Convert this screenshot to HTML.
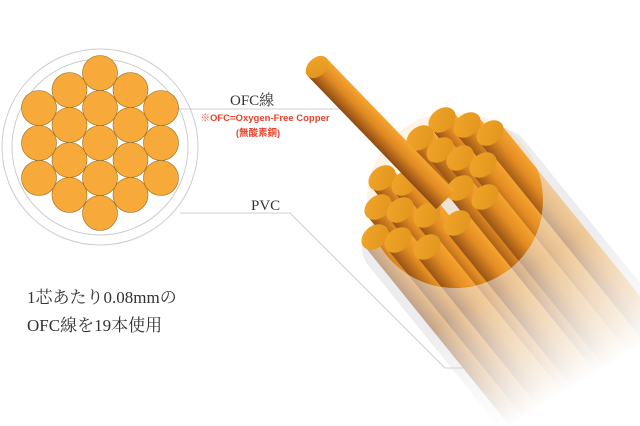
<!DOCTYPE html>
<html><head><meta charset="utf-8"><style>
html,body{margin:0;padding:0;background:#fff;width:640px;height:426px;overflow:hidden;}
svg{display:block}
text{font-family:"Liberation Serif","Noto Serif CJK SC",serif;}
</style></head><body>
<svg width="640" height="426" viewBox="0 0 640 426" xmlns="http://www.w3.org/2000/svg">
<defs>
<linearGradient id="rod" x1="0" y1="0" x2="0" y2="1">
<stop offset="0" stop-color="#f6a531"/><stop offset="0.45" stop-color="#e08a22"/><stop offset="1" stop-color="#8c4a14"/>
</linearGradient>
<linearGradient id="cap" x1="0" y1="0" x2="1" y2="1">
<stop offset="0" stop-color="#f2a52a"/><stop offset="1" stop-color="#e0941c"/>
</linearGradient>
<linearGradient id="fade" gradientUnits="userSpaceOnUse" x1="430" y1="200" x2="560" y2="410">
<stop offset="0" stop-color="#fff"/><stop offset="0.45" stop-color="#fff"/><stop offset="0.95" stop-color="#000"/>
</linearGradient>
<mask id="m"><rect width="640" height="426" fill="url(#fade)"/></mask>
<clipPath id="cc"><circle cx="455" cy="200" r="88"/></clipPath>
<g id="rods">
<g transform="translate(442,120) rotate(51)"><rect x="0" y="-14" width="260" height="28" fill="url(#rod)"/></g>
<g transform="translate(467,125) rotate(51)"><rect x="0" y="-14" width="260" height="28" fill="url(#rod)"/></g>
<g transform="translate(490,133) rotate(51)"><rect x="0" y="-14" width="260" height="28" fill="url(#rod)"/></g>
<g transform="translate(420,138) rotate(51)"><rect x="0" y="-14" width="260" height="28" fill="url(#rod)"/></g>
<g transform="translate(440,150) rotate(51)"><rect x="0" y="-14" width="260" height="28" fill="url(#rod)"/></g>
<g transform="translate(460,158) rotate(51)"><rect x="0" y="-14" width="260" height="28" fill="url(#rod)"/></g>
<g transform="translate(483,165) rotate(51)"><rect x="0" y="-14" width="260" height="28" fill="url(#rod)"/></g>
<g transform="translate(382,178) rotate(51)"><rect x="0" y="-14" width="260" height="28" fill="url(#rod)"/></g>
<g transform="translate(405,183) rotate(51)"><rect x="0" y="-14" width="260" height="28" fill="url(#rod)"/></g>
<g transform="translate(460,188) rotate(51)"><rect x="0" y="-14" width="260" height="28" fill="url(#rod)"/></g>
<g transform="translate(485,197) rotate(51)"><rect x="0" y="-14" width="260" height="28" fill="url(#rod)"/></g>
<g transform="translate(378,207) rotate(51)"><rect x="0" y="-14" width="260" height="28" fill="url(#rod)"/></g>
<g transform="translate(400,210) rotate(51)"><rect x="0" y="-14" width="260" height="28" fill="url(#rod)"/></g>
<g transform="translate(427,215) rotate(51)"><rect x="0" y="-14" width="260" height="28" fill="url(#rod)"/></g>
<g transform="translate(457,223) rotate(51)"><rect x="0" y="-14" width="260" height="28" fill="url(#rod)"/></g>
<g transform="translate(375,237) rotate(51)"><rect x="0" y="-14" width="260" height="28" fill="url(#rod)"/></g>
<g transform="translate(398,240) rotate(51)"><rect x="0" y="-14" width="260" height="28" fill="url(#rod)"/></g>
<g transform="translate(427,247) rotate(51)"><rect x="0" y="-14" width="260" height="28" fill="url(#rod)"/></g>
</g>
</defs>

<g mask="url(#m)">
<g transform="translate(440,195) rotate(51)"><rect x="-20" y="-100" width="300" height="200" rx="30" fill="#e6e6e8" opacity="0.7"/></g>
</g>
<polyline points="180,213 290,213 445,368 463,368" fill="none" stroke="#cfcfcf" stroke-width="1"/>
<g mask="url(#m)" opacity="0.45"><use href="#rods"/></g>
<g clip-path="url(#cc)"><use href="#rods"/></g>
<circle cx="455" cy="200" r="88" fill="#f39a2a" opacity="0.12"/>
<g fill="url(#cap)">
<ellipse cx="442" cy="120" rx="15" ry="11" transform="rotate(-39 442 120)"/>
<ellipse cx="467" cy="125" rx="15" ry="11" transform="rotate(-39 467 125)"/>
<ellipse cx="490" cy="133" rx="15" ry="11" transform="rotate(-39 490 133)"/>
<ellipse cx="420" cy="138" rx="15" ry="11" transform="rotate(-39 420 138)"/>
<ellipse cx="440" cy="150" rx="15" ry="11" transform="rotate(-39 440 150)"/>
<ellipse cx="460" cy="158" rx="15" ry="11" transform="rotate(-39 460 158)"/>
<ellipse cx="483" cy="165" rx="15" ry="11" transform="rotate(-39 483 165)"/>
<ellipse cx="382" cy="178" rx="15" ry="11" transform="rotate(-39 382 178)"/>
<ellipse cx="405" cy="183" rx="15" ry="11" transform="rotate(-39 405 183)"/>
<ellipse cx="460" cy="188" rx="15" ry="11" transform="rotate(-39 460 188)"/>
<ellipse cx="485" cy="197" rx="15" ry="11" transform="rotate(-39 485 197)"/>
<ellipse cx="378" cy="207" rx="15" ry="11" transform="rotate(-39 378 207)"/>
<ellipse cx="400" cy="210" rx="15" ry="11" transform="rotate(-39 400 210)"/>
<ellipse cx="427" cy="215" rx="15" ry="11" transform="rotate(-39 427 215)"/>
<ellipse cx="457" cy="223" rx="15" ry="11" transform="rotate(-39 457 223)"/>
<ellipse cx="375" cy="237" rx="15" ry="11" transform="rotate(-39 375 237)"/>
<ellipse cx="398" cy="240" rx="15" ry="11" transform="rotate(-39 398 240)"/>
<ellipse cx="427" cy="247" rx="15" ry="11" transform="rotate(-39 427 247)"/>
</g>
<line x1="160" y1="109" x2="350" y2="109" stroke="#cfcfcf" stroke-width="1"/>
<g transform="translate(317,67) rotate(46)">
<rect x="0" y="-13" width="185" height="26" fill="url(#rod)"/>
<ellipse cx="0" cy="0" rx="9" ry="13" fill="url(#cap)"/>
</g>

<circle cx="100" cy="147" r="98" fill="none" stroke="#cccccc" stroke-width="1"/>
<circle cx="100" cy="147" r="88" fill="none" stroke="#cccccc" stroke-width="1"/>
<g fill="#f7a93a" stroke="#9a6a20" stroke-width="0.6">
<circle cx="39" cy="108" r="17.5"/><circle cx="39" cy="143" r="17.5"/><circle cx="39" cy="178" r="17.5"/>
<circle cx="69.5" cy="90" r="17.5"/><circle cx="69.5" cy="125" r="17.5"/><circle cx="69.5" cy="160" r="17.5"/><circle cx="69.5" cy="195" r="17.5"/>
<circle cx="100" cy="73" r="17.5"/><circle cx="100" cy="108" r="17.5"/><circle cx="100" cy="143" r="17.5"/><circle cx="100" cy="178" r="17.5"/><circle cx="100" cy="213" r="17.5"/>
<circle cx="130.5" cy="90" r="17.5"/><circle cx="130.5" cy="125" r="17.5"/><circle cx="130.5" cy="160" r="17.5"/><circle cx="130.5" cy="195" r="17.5"/>
<circle cx="161" cy="108" r="17.5"/><circle cx="161" cy="143" r="17.5"/><circle cx="161" cy="178" r="17.5"/>
</g>

<text x="230" y="105" font-size="15" fill="#333">OFC線</text>
<text x="265" y="121" font-size="9.5" font-weight="bold" fill="#e8432c" text-anchor="middle" style="font-family:'Liberation Sans','Noto Sans CJK JP',sans-serif">※OFC=Oxygen-Free Copper</text>
<text x="258" y="136" font-size="9.5" font-weight="bold" fill="#e8432c" text-anchor="middle" style="font-family:'Liberation Sans','Noto Sans CJK JP',sans-serif">(無酸素銅)</text>
<text x="251" y="210" font-size="15" fill="#333">PVC</text>
<text x="27" y="303" font-size="17" fill="#333">1芯あたり0.08mmの</text>
<text x="27" y="331" font-size="17" fill="#333">OFC線を19本使用</text>
</svg>
</body></html>
